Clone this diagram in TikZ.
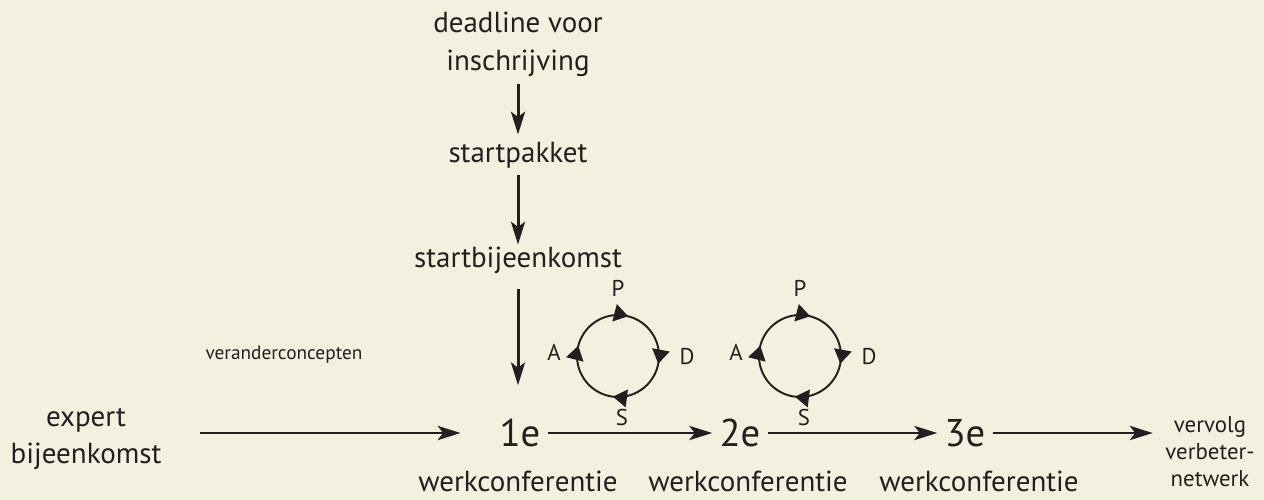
\documentclass[tikz,border=0pt]{standalone}
\usepackage{fontspec}
\setmainfont{PT Sans}
\usetikzlibrary{arrows.meta,decorations.markings,positioning}
\definecolor{PaperCream}{HTML}{F3F0E0}
\definecolor{InkBlack}{HTML}{231F20}

\tikzset{
  stagetext/.style={InkBlack, font=\fontsize{16.5}{21.5}\selectfont, align=center, inner sep=4pt},
  smalltext/.style={InkBlack, font=\fontsize{11}{15.3}\selectfont, align=center, inner sep=4pt},
  endtext/.style={InkBlack, font=\fontsize{13}{15.3}\selectfont, align=center, inner sep=4pt},
  cycletext/.style={InkBlack, font=\fontsize{13}{15}\selectfont, inner sep=1pt},
  roundno/.style={InkBlack, font=\fontsize{22}{24}\selectfont, inner sep=4pt},
  flowarrow/.style={InkBlack, line width=1.7pt, -{Stealth[length=13pt,width=8pt,inset=3pt]}},
  pdsacycle/.style={InkBlack, line width=1.1pt, postaction={decorate},
    decoration={markings,
      mark=at position 0.04 with {\arrow{Triangle[length=8pt,width=10pt]}},
      mark=at position 0.28 with {\arrow{Triangle[length=8pt,width=10pt]}},
      mark=at position 0.52 with {\arrow{Triangle[length=8pt,width=10pt]}},
      mark=at position 0.79 with {\arrow{Triangle[length=8pt,width=10pt]}}}},
}

\begin{document}
\begin{tikzpicture}[x=0.02cm, y=0.02cm]
    % Paper
    \fill[PaperCream] (0,0) rectangle (1264,500);
    \useasboundingbox (0,0) rectangle (1264,500);
    % Intake column
    \node[stagetext] (deadline) at (518,456) {deadline voor\\inschrijving};
    \node[stagetext] (pakket) at (518,345) {startpakket};
    \node[stagetext] (startbijeen) at (518,240) {startbijeenkomst};
    \draw[flowarrow] (deadline.south) -- (deadline.south |- pakket.north);
    \draw[flowarrow, shorten >=-3pt] (pakket.south) -- (pakket.south |- startbijeen.north);
    % Rounds
    \node[roundno] (een) at (520,67) {1e};
    \node[roundno] (twee) at (740,67) {2e};
    \node[roundno] (drie) at (965,67) {3e};
    \node[stagetext] (werk1) at (518,19) {werkconferentie};
    \node[stagetext] (werk2) at (748,19) {werkconferentie};
    \node[stagetext] (werk3) at (979,19) {werkconferentie};
    \node[stagetext] (expert) at (86,61) {expert\\bijeenkomst};
    \node[smalltext] (concepten) at (284,145) {veranderconcepten};
    \node[endtext] (vervolg) at (1210,48) {vervolg\\verbeter-\\netwerk};
    \draw[flowarrow, shorten <=5pt, shorten >=15pt]
    (startbijeen.south) -- (startbijeen.south |- een.north);
    \draw[flowarrow, shorten <=18pt, shorten >=18pt]
    (expert.east |- een.west) -- (een.west);
    \draw[flowarrow] (een.east) -- (twee.west);
    \draw[flowarrow] (twee.east) -- (drie.west);
    \draw[flowarrow, shorten >=3pt] (drie.east) -- (vervolg.west |- drie.east);
    % PDSA cycles
    \foreach \cx [count=\i] in {618,800} {
      \coordinate (cyc\i) at (\cx,144);
      \draw[pdsacycle] (cyc\i) ++(0,41) arc[start angle=90, end angle=-270, radius=41];
      \node[cycletext] (plan\i) at ([shift={(0,68)}]cyc\i) {P};
      \node[cycletext] (do\i) at ([shift={(69,-1)}]cyc\i) {D};
      \node[cycletext] (study\i) at ([shift={(4,-62)}]cyc\i) {S};
      \node[cycletext] (act\i) at ([shift={(-64,4)}]cyc\i) {A};
    }
  \end{tikzpicture}
\end{document}
